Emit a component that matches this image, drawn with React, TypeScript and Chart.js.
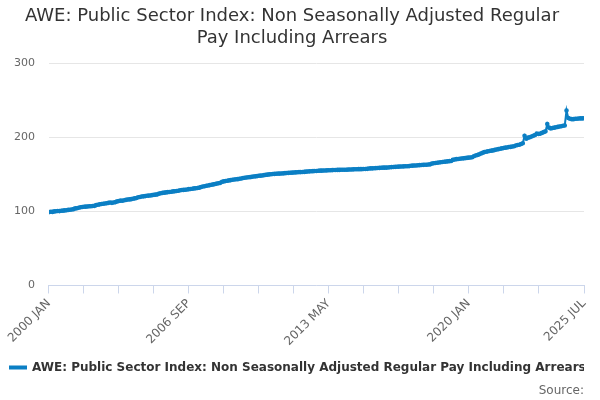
import React, { useEffect, useRef } from "react";
import { Chart, registerables } from "chart.js";
Chart.register(...registerables);

const MONTHS = ["JAN","FEB","MAR","APR","MAY","JUN","JUL","AUG","SEP","OCT","NOV","DEC"];
const START_YEAR = 2000;

const y2000 = [99, 99.5, 99.3, 100, 100.2, 100.5, 100.4, 100.8, 101, 101.3, 101.5, 102];
const y2001 = [102.3, 102.5, 103, 104, 104.3, 105, 105.5, 106, 106.2, 106.4, 106.5, 107];
const y2002 = [107, 107.2, 107.5, 108.5, 109, 109.5, 110, 110.4, 110.6, 111, 111.5, 112];
const y2003 = [111.5, 112, 112.5, 113.5, 114, 114.5, 114.3, 115, 115.5, 116, 116.2, 116.5];
const y2004 = [117, 117.5, 118, 119, 119.5, 120, 120.3, 120.6, 121, 121.3, 121.5, 122];
const y2005 = [122.3, 122.6, 123, 124, 124.5, 125, 125.3, 125.6, 126, 126.2, 126.5, 127];
const y2006 = [127.2, 127.5, 127.8, 128.5, 128.8, 129, 129.3, 129.6, 130, 130.3, 130.6, 131];
const y2007 = [131.3, 131.6, 132, 133, 133.5, 134, 134.5, 135, 135.5, 136, 136.4, 137];
const y2008 = [137.5, 138, 138.5, 140, 140.5, 141, 141.3, 141.8, 142.2, 142.6, 143, 143.3];
const y2009 = [143.5, 144, 144.3, 145, 145.4, 145.8, 146, 146.3, 146.6, 147, 147.3, 147.6];
const y2010 = [148, 148.2, 148.5, 149, 149.3, 149.6, 150, 150.2, 150.4, 150.6, 150.8, 151];
const y2011 = [151, 151.2, 151.3, 151.6, 151.8, 152, 152.1, 152.3, 152.5, 152.6, 152.8, 153];
const y2012 = [153, 153.2, 153.3, 153.6, 153.8, 154, 154.1, 154.3, 154.5, 154.6, 154.8, 155];
const y2013 = [155, 155.1, 155.2, 155.4, 155.5, 155.6, 155.7, 155.8, 155.9, 156, 156, 156.1];
const y2014 = [156.1, 156.2, 156.2, 156.4, 156.5, 156.6, 156.7, 156.8, 156.9, 157, 157, 157.1];
const y2015 = [157.2, 157.3, 157.4, 157.8, 158, 158.1, 158.3, 158.4, 158.5, 158.7, 158.8, 159];
const y2016 = [159, 159.1, 159.2, 159.6, 159.8, 160, 160.1, 160.2, 160.4, 160.5, 160.6, 160.8];
const y2017 = [160.9, 161, 161.1, 161.5, 161.7, 161.9, 162, 162.2, 162.4, 162.6, 162.8, 163];
const y2018 = [163, 163.2, 163.5, 164.5, 165, 165.3, 165.6, 166, 166.3, 166.6, 166.9, 167.2];
const y2019 = [167.5, 167.8, 168, 169.5, 170, 170.5, 170.8, 171, 171.3, 171.6, 171.9, 172.2];
const y2020 = [172.5, 172.8, 173, 174.5, 175.5, 176, 177, 178, 179, 180, 180.5, 181];
const y2021 = [181.5, 182, 182.3, 183, 183.5, 184, 184.5, 185, 185.5, 186, 186.3, 186.8];
const y2022 = [187, 187.5, 188, 189, 189.5, 190, 191, 192, 202, 198, 199.5, 200];
const y2023 = [201, 202, 203, 205, 204.5, 205, 206, 207, 208, 218, 213, 212];
const y2024 = [212.5, 213, 213.5, 214, 214.5, 215, 215.5, 216, 236, 226, 225, 224.5];
const y2025 = [224.5, 225, 225, 225.3, 225.5, 225.5, 225.8];

const VALUES = [
  ...y2000, ...y2001, ...y2002, ...y2003, ...y2004, ...y2005, ...y2006, ...y2007, ...y2008,
  ...y2009, ...y2010, ...y2011, ...y2012, ...y2013, ...y2014, ...y2015, ...y2016, ...y2017,
  ...y2018, ...y2019, ...y2020, ...y2021, ...y2022, ...y2023, ...y2024, ...y2025,
];
const LABEL_INDICES = [0, 80, 160, 240, VALUES.length - 1];
const SERIES_NAME = "AWE: Public Sector Index: Non Seasonally Adjusted Regular Pay Including Arrears";
const COLOR = "#0b7fc4";
const FONT = "'DejaVu Sans', 'Noto Sans', sans-serif";

function monthLabel(i: number) {
  return `${START_YEAR + Math.floor(i / 12)} ${MONTHS[i % 12]}`;
}

export default function App() {
  const ref = useRef<HTMLCanvasElement>(null);
  useEffect(() => {
    const last = VALUES.length - 1;
    const chart = new Chart(ref.current!, {
      type: "line",
      data: {
        datasets: [{
          label: SERIES_NAME,
          data: VALUES.map((v, i) => ({ x: i, y: v })),
          borderColor: COLOR,
          backgroundColor: COLOR,
          borderWidth: 2,
          pointRadius: 1.3,
          pointHoverRadius: 2,
          tension: 0,
        }],
      },
      options: {
        animation: false,
        responsive: false,
        layout: { padding: { left: 0, right: 16, top: 0, bottom: 0 } },
        plugins: {
          title: {
            display: true,
            text: ["AWE: Public Sector Index: Non Seasonally Adjusted Regular", "Pay Including Arrears"],
            color: "#333",
            font: { family: FONT, size: 18, weight: "normal" },
            padding: { top: 6, bottom: 14 },
            lineHeight: 1.22,
          },
          legend: {
            position: "bottom",
            align: "start",
            labels: {
              boxWidth: 16,
              boxHeight: 2,
              color: "#333",
              font: { family: FONT, size: 12, weight: "bold" },
              padding: 10,
            },
          },
          subtitle: {
            display: true,
            position: "bottom",
            align: "end",
            text: "Source:",
            color: "#666",
            font: { family: FONT, size: 12 },
            padding: { top: 0, bottom: 2 },
          },
          tooltip: { enabled: false },
        },
        scales: {
          x: {
            type: "linear",
            min: 0,
            max: last,
            afterBuildTicks: (axis: any) => {
              const t = [];
              for (let i = 0; i <= 280; i += 20) t.push({ value: i });
              t.push({ value: last });
              axis.ticks = t;
            },
            ticks: {
              autoSkip: false,
              maxRotation: 45,
              minRotation: 45,
              color: "#666",
              font: { family: FONT, size: 12 },
              callback: (v: any) => (LABEL_INDICES.includes(Number(v)) ? monthLabel(Number(v)) : ""),
            },
            grid: { drawOnChartArea: false, drawTicks: true, tickLength: 8, color: "#ccd6eb" },
            border: { color: "#ccd6eb" },
          },
          y: {
            min: 0,
            max: 300,
            ticks: { stepSize: 100, color: "#666", font: { family: FONT, size: 11 }, padding: 14 },
            grid: { color: "#e6e6e6", drawTicks: false },
            border: { display: false },
          },
        },
      },
    });
    return () => chart.destroy();
  }, []);
  return <canvas ref={ref} width={600} height={400} style={{ display: "block", position: "absolute", left: 0, top: 0 }} />;
}
